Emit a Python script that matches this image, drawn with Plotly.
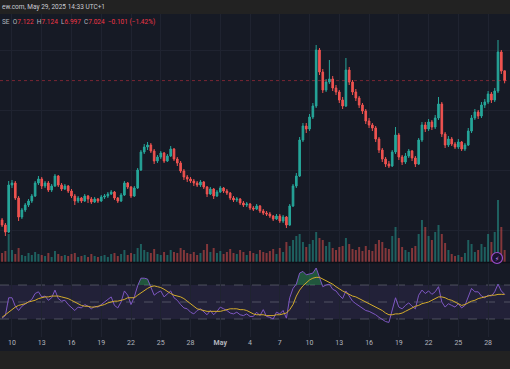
import plotly.graph_objects as go
import pandas as pd
import numpy as np

# ---- data (8h candles) ----
start_time = "2025-04-09 00:00"
n_candles = 153

opens = [5.63,5.58,5.51,5.98,6.00,5.85,5.66,5.73,5.78,5.82,
5.87,6.00,6.04,5.97,6.00,5.93,5.97,6.07,5.98,5.94,
5.97,5.92,5.87,5.82,5.85,5.82,5.87,5.84,5.81,5.84,
5.82,5.86,5.87,5.89,5.91,5.85,5.82,5.88,6.00,5.96,
5.87,5.95,6.13,6.31,6.36,6.38,6.32,6.22,6.26,6.30,
6.22,6.27,6.34,6.24,6.20,6.12,6.06,6.04,6.02,6.00,
5.98,6.01,5.96,5.89,5.94,5.87,5.91,5.95,5.92,5.90,
5.85,5.83,5.84,5.80,5.78,5.79,5.75,5.74,5.77,5.72,
5.70,5.69,5.67,5.64,5.67,5.62,5.66,5.58,5.77,5.97,
6.07,6.43,6.57,6.54,6.66,6.77,7.33,7.11,6.93,7.01,
7.04,6.95,6.91,6.83,6.77,7.13,7.01,6.91,6.85,6.78,
6.72,6.62,6.58,6.55,6.44,6.33,6.24,6.19,6.17,6.31,
6.48,6.26,6.21,6.27,6.32,6.25,6.19,6.43,6.58,6.54,
6.61,6.56,6.65,6.79,6.49,6.38,6.44,6.39,6.36,6.41,
6.34,6.38,6.52,6.65,6.71,6.67,6.78,6.81,6.89,6.83,
6.92,7.31,7.122]

highs = [5.65,5.60,6.02,6.03,6.02,5.87,5.75,5.80,5.84,5.89,
6.02,6.07,6.06,6.02,6.02,5.99,6.09,6.08,6.00,5.99,
5.98,5.94,5.89,5.87,5.86,5.89,5.88,5.86,5.86,5.85,
5.88,5.89,5.91,5.93,5.92,5.86,5.90,6.02,6.01,5.97,
5.97,6.15,6.33,6.39,6.41,6.40,6.34,6.28,6.32,6.31,
6.29,6.37,6.35,6.26,6.22,6.14,6.08,6.06,6.04,6.02,
6.03,6.02,5.97,5.96,5.95,5.93,5.97,5.96,5.94,5.91,
5.87,5.86,5.85,5.82,5.81,5.80,5.77,5.79,5.78,5.74,
5.72,5.71,5.68,5.69,5.69,5.68,5.67,5.79,5.99,6.10,
6.46,6.60,6.60,6.69,6.80,7.38,7.35,7.14,7.04,7.23,
7.07,6.98,6.93,6.86,7.25,7.16,7.03,6.94,6.87,6.80,
6.74,6.65,6.60,6.57,6.46,6.35,6.26,6.22,6.33,6.56,
6.50,6.28,6.30,6.34,6.33,6.27,6.45,6.61,6.61,6.64,
6.63,6.68,6.86,6.81,6.51,6.47,6.46,6.41,6.44,6.42,
6.40,6.55,6.68,6.74,6.73,6.81,6.84,6.92,6.91,6.95,
7.43,7.33,7.124]

lows = [5.56,5.47,5.50,5.95,5.83,5.62,5.64,5.71,5.76,5.80,
5.86,5.98,5.94,5.95,5.91,5.91,5.96,5.96,5.92,5.93,
5.90,5.85,5.78,5.80,5.80,5.81,5.80,5.79,5.80,5.80,
5.81,5.84,5.85,5.88,5.83,5.80,5.81,5.87,5.94,5.85,
5.86,5.94,6.12,6.29,6.33,6.30,6.19,6.20,6.24,6.20,
6.21,6.26,6.22,6.17,6.10,6.03,6.01,6.00,5.97,5.96,
5.96,5.94,5.86,5.88,5.84,5.86,5.90,5.90,5.88,5.83,
5.81,5.81,5.78,5.76,5.76,5.73,5.72,5.73,5.70,5.68,
5.67,5.65,5.62,5.63,5.60,5.60,5.55,5.57,5.76,5.95,
6.06,6.41,6.50,6.52,6.64,6.75,7.08,6.90,6.91,6.99,
6.92,6.88,6.80,6.74,6.76,6.98,6.88,6.82,6.75,6.69,
6.59,6.55,6.52,6.41,6.30,6.21,6.16,6.15,6.16,6.29,
6.23,6.18,6.19,6.25,6.22,6.16,6.18,6.41,6.51,6.52,
6.53,6.54,6.63,6.46,6.35,6.36,6.37,6.34,6.34,6.32,
6.32,6.37,6.50,6.63,6.64,6.65,6.75,6.79,6.80,6.81,
6.90,7.09,6.997]

closes = [5.58,5.51,5.98,6.00,5.85,5.66,5.73,5.78,5.82,5.87,
6.00,6.04,5.97,6.00,5.93,5.97,6.07,5.98,5.94,5.97,
5.92,5.87,5.82,5.85,5.82,5.87,5.84,5.81,5.84,5.82,
5.86,5.87,5.89,5.91,5.85,5.82,5.88,6.00,5.96,5.87,
5.95,6.13,6.31,6.36,6.38,6.32,6.22,6.26,6.30,6.22,
6.27,6.34,6.24,6.20,6.12,6.06,6.04,6.02,6.00,5.98,
6.01,5.96,5.89,5.94,5.87,5.91,5.95,5.92,5.90,5.85,
5.83,5.84,5.80,5.78,5.79,5.75,5.74,5.77,5.72,5.70,
5.69,5.67,5.64,5.67,5.62,5.66,5.58,5.77,5.97,6.07,
6.43,6.57,6.54,6.66,6.77,7.33,7.11,6.93,7.01,7.04,
6.95,6.91,6.83,6.77,7.13,7.01,6.91,6.85,6.78,6.72,
6.62,6.58,6.55,6.44,6.33,6.24,6.19,6.17,6.31,6.48,
6.26,6.21,6.27,6.32,6.25,6.19,6.43,6.58,6.54,6.61,
6.56,6.65,6.79,6.49,6.38,6.44,6.39,6.36,6.41,6.34,
6.38,6.52,6.65,6.71,6.67,6.78,6.81,6.89,6.83,6.92,
7.31,7.12,7.024]

volumes = [9,11,28,12,8,14,7,6,9,7,
10,8,7,6,9,5,11,8,6,7,
6,8,9,5,6,7,5,8,6,5,
6,7,5,8,9,6,8,12,7,9,
8,14,18,12,10,9,13,8,7,10,
7,12,10,9,14,12,9,8,10,7,
9,12,18,10,14,9,11,8,10,13,
9,8,12,10,7,11,9,8,12,10,
9,11,13,8,14,10,20,16,22,26,
28,20,15,18,22,30,24,22,16,20,
14,12,15,16,24,18,13,12,15,11,
16,12,11,18,22,20,14,13,26,35,
24,15,12,10,14,16,28,42,35,26,
22,30,37,28,19,12,8,6,7,5,
9,22,18,10,12,18,15,28,20,30,
62,35,12]

rsi = [31,34,55,55,45,40,45,48,50,53,
60,62,56,57,52,55,64,54,51,52,
47,43,40,44,43,47,45,42,45,44,
47,49,52,56,46,43,50,63,58,47,
56,69,78,78,77,68,58,61,63,56,
60,63,55,52,47,43,42,38,36,40,
42,39,35,40,35,39,44,42,40,37,
36,38,35,34,36,33,33,38,34,41,
33,32,30,38,36,40,31,55,66,71,
84,86,82,83,84,90,78,68,70,71,
65,63,58,54,63,57,51,48,45,42,
40,39,37,35,32,29,27,26,42,55,
44,42,46,49,45,42,58,64,60,63,
59,62,68,50,44,48,46,44,48,43,
46,55,66,62,62,57,55,58,57,62,
71,63,59]

rsi_ma = [32,35,39,42,44,46,47,48,50,51,
52,54,55,56,56,57,57,57,56,55,
54,52,50,48,46,45,45,44,44,45,
46,47,49,50,51,51,52,53,55,55,
55,58,61,64,66,68,69,68,67,65,
62,60,58,57,56,54,51,47,44,42,
41,40,39,39,39,39,39,40,41,42,
42,42,41,41,40,38,36,35,35,35,
34,34,34,35,35,36,37,41,47,57,
64,69,73,76,78,79,79,77,75,73,
71,68,65,63,61,59,57,56,54,52,
50,48,46,44,42,40,37,35,35,36,
36,37,39,41,43,45,46,48,49,50,
52,54,56,56,55,53,52,50,48,46,
47,49,51,52,54,55,56,57,58,58,
59,59,59]

tick_dates = ["2025-04-10","2025-04-13","2025-04-16","2025-04-19","2025-04-22",
              "2025-04-25","2025-04-28","2025-05-01","2025-05-04","2025-05-07",
              "2025-05-10","2025-05-13","2025-05-16","2025-05-19","2025-05-22",
              "2025-05-25","2025-05-28"]
tick_labels = ["10","13","16","19","22","25","28","<b>May</b>","4","7",
               "10","13","16","19","22","25","28"]

last_price = 7.024
header_text = "ew.com, May 29, 2025 14:33 UTC+1"

# ---- styling ----
UP = "#26a69a"
DOWN = "#ef5350"
BG = "#161a25"
BAR = "#222222"
GRID = "#1f2330"
FONT = "Roboto"

times = pd.date_range(start_time, periods=n_candles, freq="8h")
vol_colors = ["rgba(38,166,154,0.5)" if c >= o else "rgba(239,83,80,0.5)"
              for o, c in zip(opens, closes)]

fig = go.Figure()

fig.add_trace(go.Bar(x=times, y=volumes, marker=dict(color=vol_colors, line=dict(width=0)),
                     width=8*3600*1000*0.6, yaxis="y2", xaxis="x", hoverinfo="skip"))

fig.add_trace(go.Candlestick(
    x=times, open=opens, high=highs, low=lows, close=closes,
    increasing=dict(line=dict(color=UP, width=1), fillcolor=UP),
    decreasing=dict(line=dict(color=DOWN, width=1), fillcolor=DOWN),
    whiskerwidth=0, yaxis="y", xaxis="x"))

rsi_arr = np.array(rsi, dtype=float)
fig.add_trace(go.Scatter(x=times, y=[70]*n_candles, mode="lines",
                         line=dict(width=0, color="rgba(0,0,0,0)"), yaxis="y3", hoverinfo="skip"))
fig.add_trace(go.Scatter(x=times, y=np.maximum(rsi_arr, 70), mode="lines",
                         line=dict(width=0, color="rgba(0,0,0,0)"), fill="tonexty",
                         fillcolor="rgba(46,160,90,0.45)", yaxis="y3", hoverinfo="skip"))
fig.add_trace(go.Scatter(x=times, y=rsi, mode="lines",
                         line=dict(color="#7e57c2", width=1), yaxis="y3"))
fig.add_trace(go.Scatter(x=times, y=rsi_ma, mode="lines",
                         line=dict(color="#d4ac2b", width=1), yaxis="y3"))

H = 369
top_m, bot_m = 14, 18
plot_h = H - top_m - bot_m  # 337
def py(pix):
    return (H - bot_m - pix) / plot_h

shapes = [
    dict(type="rect", xref="paper", yref="paper", x0=0, x1=1, y0=0, y1=1,
         fillcolor=BG, line=dict(width=0), layer="below"),
    dict(type="rect", xref="paper", yref="y3", x0=0, x1=1, y0=30, y1=70,
         fillcolor="rgba(126,87,194,0.12)", line=dict(width=0), layer="below"),
]
for lvl in (70, 50, 30):
    shapes.append(dict(type="line", xref="paper", yref="y3", x0=0, x1=1, y0=lvl, y1=lvl,
                       line=dict(color="rgba(120,123,134,0.55)", width=1, dash="dash"),
                       layer="below"))
shapes.append(dict(type="line", xref="paper", yref="y", x0=0, x1=1, y0=last_price, y1=last_price,
                   line=dict(color="rgba(242,54,69,0.45)", width=1, dash="dot"), layer="above"))
shapes.append(dict(type="line", xref="paper", yref="paper", x0=0, x1=1,
                   y0=py(262.5), y1=py(262.5), line=dict(color="#0d0f16", width=1.5), layer="above"))
shapes.append(dict(type="circle", xref="paper", yref="paper",
                   x0=491.5/510, x1=502.5/510, y0=py(263.5), y1=py(252.5),
                   fillcolor="#1c1330", line=dict(color="#9c4dcc", width=1.2), layer="above"))

ohlc_html = ('<span style="color:#b2b5be">SE  O</span><span style="color:#f23645">7.122</span>'
             '<span style="color:#b2b5be">  H</span><span style="color:#f23645">7.124</span>'
             '<span style="color:#b2b5be">  L</span><span style="color:#f23645">6.997</span>'
             '<span style="color:#b2b5be">  C</span><span style="color:#f23645">7.024</span>'
             '<span style="color:#f23645">  \u22120.101 (\u22121.42%)</span>')

annotations = [
    dict(xref="paper", yref="paper", x=0, y=py(7), xanchor="left", yanchor="middle",
         text=header_text, showarrow=False, font=dict(family=FONT, size=6.5, color="#c9cbd2")),
    dict(xref="paper", yref="paper", x=0, y=py(22), xanchor="left", yanchor="middle",
         text=ohlc_html, showarrow=False, font=dict(family=FONT, size=6.5, color="#b2b5be")),
    dict(xref="paper", yref="paper", x=497/510, y=py(258), xanchor="center", yanchor="middle",
         text="\u26a1", showarrow=False, font=dict(family="DejaVu Sans", size=6, color="#c58af9")),
]

fig.update_layout(
    width=510, height=369,
    margin=dict(l=0, r=0, t=top_m, b=bot_m, pad=0),
    paper_bgcolor=BAR, plot_bgcolor=BG,
    showlegend=False,
    font=dict(family=FONT, color="#b2b5be", size=7),
    shapes=shapes, annotations=annotations,
    xaxis=dict(type="date", range=["2025-04-08 19:00", "2025-05-30 05:00"],
               anchor="y3", tickvals=tick_dates, ticktext=tick_labels,
               ticks="", showgrid=True, gridcolor=GRID, gridwidth=1,
               zeroline=False, showline=False, rangeslider=dict(visible=False),
               tickfont=dict(family=FONT, size=7, color="#b2b5be")),
    yaxis=dict(domain=[py(262), 1], range=[5.21, 7.69], showticklabels=False,
               tickvals=[5.53, 6.13, 6.73, 7.33], showgrid=True, gridcolor=GRID,
               zeroline=False, showline=False),
    yaxis2=dict(overlaying="y", range=[0, 248], visible=False, showgrid=False),
    yaxis3=dict(domain=[py(337), py(263)], range=[8.82, 95.88], showticklabels=False,
                showgrid=False, zeroline=False, showline=False),
)

fig.write_html("out.html", config={"displayModeBar": False},
               post_script="document.body.style.margin='0';document.body.style.padding='0';"
                           "document.body.style.overflow='hidden';")
